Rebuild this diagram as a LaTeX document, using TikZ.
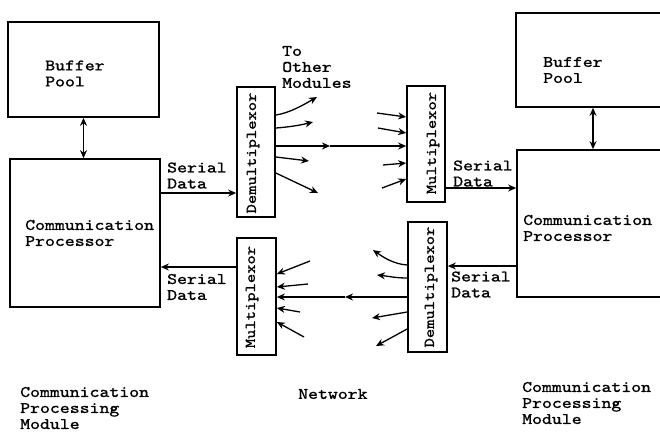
\documentclass[tikz,border=0pt]{standalone}
\usepackage{fontspec}
\newfontfamily\tw{lmmono10-regular.otf}[FakeStretch=1.18,FakeBold=1.2]
\usetikzlibrary{arrows.meta}
\begin{document}
\begin{tikzpicture}[x=1pt,y=-1pt,
  box/.style={draw,line width=1.7pt,inner sep=0pt},
  lbl/.style={font=\tw\fontsize{16}{16}\selectfont, align=left, inner sep=0pt, anchor=west},
  vlbl/.style={font=\tw\fontsize{15}{16}\selectfont, rotate=90, inner sep=0pt},
  arr/.style={line width=1.3pt, -{Stealth[length=8pt,width=7pt]}},
  darr/.style={line width=1.3pt, {Stealth[length=8pt,width=7pt]}-{Stealth[length=8pt,width=7pt]}},
]
\clip (0,0) rectangle (660,434);
% boxes
\node[box, minimum width=151pt, minimum height=95pt] (bufL) at (83.5,69.5) {};
\node[box, minimum width=150pt, minimum height=148pt] (cpL) at (85,233) {};
\node[box, minimum width=38pt, minimum height=130pt] (demU) at (256,152) {};
\node[box, minimum width=38pt, minimum height=116pt] (muxU) at (426,144) {};
\node[box, minimum width=39pt, minimum height=117pt] (muxL) at (256.5,296.5) {};
\node[box, minimum width=39pt, minimum height=130pt] (demL) at (427.5,287) {};
\node[box, minimum width=184pt, minimum height=94pt] (bufR) at (608,60) {};
\node[box, minimum width=183pt, minimum height=147pt] (cpR) at (608.5,223.5) {};
% texts
\node[lbl] (tBufL) at (45,73.5) {Buffer\\Pool};
\node[lbl] (tBufR) at (543,70) {Buffer\\Pool};
\node[lbl] (tCpL) at (25,233) {Communication\\Processor};
\node[lbl] (tCpR) at (523,228) {Communication\\Processor};
\node[lbl] (tSD1) at (167,175.5) {Serial\\Data};
\node[lbl] (tSD2) at (167,287) {Serial\\Data};
\node[lbl] (tSD3) at (453,173.5) {Serial\\Data};
\node[lbl] (tSD4) at (451,284.5) {Serial\\Data};
\node[lbl] (tOther) at (282,67) {To\\Other\\Modules};
\node[vlbl] (vDemU) at (253,153) {Demultiplexor};
\node[vlbl] (vMuxU) at (433,143) {Multiplexor};
\node[vlbl] (vMuxL) at (252,297) {Multiplexor};
\node[vlbl] (vDemL) at (431,287) {Demultiplexor};
\node[lbl] (tModL) at (20,408) {Communication\\Processing\\Module};
\node[lbl] (tNet) at (298,394) {Network};
\node[lbl] (tModR) at (522,403) {Communication\\Processing\\Module};
% buffer <-> processor
\coordinate (xR) at (593,0);
\draw[darr] (bufL.south) -- (bufL.south |- cpL.north);
\draw[darr] (xR |- bufR.south) -- (xR |- cpR.north);
% serial data links
\coordinate (s1) at (0,193);
\coordinate (s2) at (0,267);
\coordinate (s3) at (0,188);
\coordinate (s4) at (0,266);
\draw[arr] (cpL.east |- s1) -- (demU.west |- s1);
\draw[arr] (muxL.west |- s2) -- (cpL.east |- s2);
\draw[arr] (muxU.east |- s3) -- (cpR.west |- s3);
\draw[arr] (cpR.west |- s4) -- (demL.east |- s4);
% upper demultiplexor fan
\coordinate (yA1) at (0,115);
\coordinate (yA2) at (0,128);
\coordinate (yA3) at (0,146);
\coordinate (yA4) at (0,157);
\coordinate (yA5) at (0,173);
\coordinate (eA1) at (317,97);
\coordinate (eA2) at (313,122);
\coordinate (mA3) at (330,146);
\coordinate (eA4) at (309,161);
\coordinate (eA5) at (318,193);
\draw[arr] (demU.east |- yA1) .. controls +(14,-2) and +(-12,7) .. (eA1);
\draw[arr] (demU.east |- yA2) .. controls +(14,-1) and +(-12,3) .. (eA2);
\draw[arr] (demU.east |- yA3) -- (mA3);
\draw[arr] (mA3) -- (muxU.west |- yA3);
\draw[arr] (demU.east |- yA4) -- (eA4);
\draw[arr] (demU.east |- yA5) -- (eA5);
% upper multiplexor fan
\coordinate (bB1) at (377,113);
\coordinate (bB2) at (378,128);
\coordinate (bB4) at (383,165);
\coordinate (bB5) at (382,188);
\coordinate (yB1) at (0,117);
\coordinate (yB2) at (0,133);
\coordinate (yB4) at (0,163);
\coordinate (yB5) at (0,179);
\draw[arr] (bB1) -- (muxU.west |- yB1);
\draw[arr] (bB2) -- (muxU.west |- yB2);
\draw[arr] (bB4) -- (muxU.west |- yB4);
\draw[arr] (bB5) -- (muxU.west |- yB5);
% lower multiplexor fan
\coordinate (bC1) at (310,261);
\coordinate (bC2) at (308,284);
\coordinate (bC4) at (300,312);
\coordinate (bC5) at (304,337);
\coordinate (yC1) at (0,274);
\coordinate (yC2) at (0,287);
\coordinate (yC3) at (0,297);
\coordinate (yC4) at (0,308);
\coordinate (yC5) at (0,322);
\coordinate (mC3) at (345,297);
\draw[arr] (bC1) -- (muxL.east |- yC1);
\draw[arr] (bC2) -- (muxL.east |- yC2);
\draw[arr] (demL.west |- yC3) -- (mC3);
\draw[arr] (mC3) -- (muxL.east |- yC3);
\draw[arr] (bC4) -- (muxL.east |- yC4);
\draw[arr] (bC5) -- (muxL.east |- yC5);
% lower demultiplexor fan
\coordinate (yD1) at (0,265);
\coordinate (yD2) at (0,278);
\coordinate (yD4) at (0,312);
\coordinate (yD5) at (0,329);
\coordinate (eD1) at (373,250);
\coordinate (eD2) at (377,275);
\coordinate (eD4) at (372,318);
\coordinate (eD5) at (376,346);
\draw[arr] (demL.west |- yD1) .. controls +(-14,-1) and +(10,7) .. (eD1);
\draw[arr] (demL.west |- yD2) .. controls +(-12,0) and +(10,1) .. (eD2);
\draw[arr] (demL.west |- yD4) -- (eD4);
\draw[arr] (demL.west |- yD5) -- (eD5);
\end{tikzpicture}
\end{document}
